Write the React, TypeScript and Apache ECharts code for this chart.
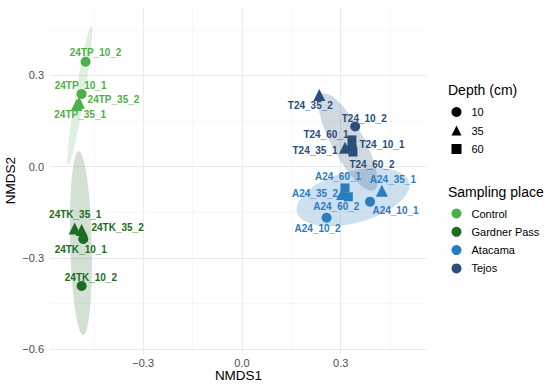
import React, { useEffect, useRef } from "react";
import * as echarts from "echarts";

// ---- data ----
const sampleNames = [
  "24TP_10_2", "24TP_10_1", "24TP_35_2", "24TP_35_1",
  "24TK_35_1", "24TK_35_2", "24TK_10_1", "24TK_10_2",
  "T24_35_2", "T24_10_2", "T24_60_1", "T24_35_1", "T24_10_1", "T24_60_2",
  "A24_60_1", "A24_35_2", "A24_60_2", "A24_35_1", "A24_10_1", "A24_10_2",
];
const nmds1 = [
  -0.475, -0.487, -0.495, -0.502,
  -0.508, -0.487, -0.482, -0.487,
  0.235, 0.344, 0.334, 0.313, 0.334, 0.337,
  0.313, 0.304, 0.323, 0.425, 0.389, 0.257,
];
const nmds2 = [
  0.345, 0.239, 0.21, 0.203,
  -0.203, -0.208, -0.238, -0.392,
  0.236, 0.132, 0.088, 0.062, 0.065, 0.048,
  -0.07, -0.09, -0.099, -0.079, -0.115, -0.168,
];
const depthOf = [
  "10", "10", "35", "35",
  "35", "35", "10", "10",
  "35", "10", "60", "35", "10", "60",
  "60", "35", "60", "35", "10", "10",
];
const placeOf = [
  "Control", "Control", "Control", "Control",
  "Gardner Pass", "Gardner Pass", "Gardner Pass", "Gardner Pass",
  "Tejos", "Tejos", "Tejos", "Tejos", "Tejos", "Tejos",
  "Atacama", "Atacama", "Atacama", "Atacama", "Atacama", "Atacama",
];
const depthLevels = ["10", "35", "60"];
const placeLevels = ["Control", "Gardner Pass", "Atacama", "Tejos"];

// ellipses (data units): centre, major half-axis vector, minor half-axis vector
const ellipsePlace = ["Control", "Gardner Pass", "Atacama", "Tejos"];
const ellipseCx = [-0.492, -0.489, 0.337, 0.322];
const ellipseCy = [0.236, -0.251, -0.1, 0.081];
const ellipseMx = [0.0356, 0.0067, 0.17, 0.079];
const ellipseMy = [0.23, -0.302, 0.049, -0.158];
const ellipseNx = [0.0135, 0.0328, 0.02, 0.0428];
const ellipseNy = [-0.0024, 0, -0.082, 0.025];

const xMajorTicks = [-0.3, 0, 0.3];
const xMinorTicks = [-0.45, -0.15, 0.15, 0.45];
const yMajorTicks = [-0.6, -0.3, 0, 0.3];
const yMinorTicks = [-0.45, -0.15, 0.15, 0.45];

// ---- styles / layout ----
const placeColors: Record<string, string> = {
  Control: "#4DAF4A",
  "Gardner Pass": "#1E6B22",
  Atacama: "#2A7DBE",
  Tejos: "#2A4F7A",
};
const ellipseFill: Record<string, string> = {
  Control: "rgba(77,175,74,0.18)",
  "Gardner Pass": "rgba(30,107,34,0.2)",
  Atacama: "rgba(42,125,190,0.24)",
  Tejos: "rgba(42,79,122,0.22)",
};
const depthSymbol: Record<string, string> = { "10": "circle", "35": "triangle", "60": "rect" };
const depthSize: Record<string, number> = { "10": 10, "35": 12, "60": 9 };
const labelOffset: Record<string, number[]> = {
  "24TP_10_2": [10, -9],
  "24TP_10_1": [-1, -8.5],
  "24TP_35_2": [34.5, -3],
  "24TP_35_1": [3.5, 10],
  "24TK_35_1": [0.5, -14],
  "24TK_35_2": [36, -2],
  "24TK_10_1": [-2.5, 10.7],
  "24TK_10_2": [9.3, -8.3],
  "T24_35_2": [-9, 11],
  "T24_10_2": [9, -8.4],
  "T24_60_1": [-26, -5],
  "T24_35_1": [-30, 3],
  "T24_10_1": [30, -2],
  "T24_60_2": [19, 12],
  "A24_60_1": [-7, -11],
  "A24_35_2": [-27, -1],
  "A24_60_2": [-12, 10],
  "A24_35_1": [11, -11],
  "A24_10_1": [25.5, 9.3],
  "A24_10_2": [-9, 10.6],
};

const FONT = "'Liberation Sans', Arial, Helvetica, sans-serif";
const fmt = (v: number) => v.toFixed(1).replace("-", "\u2212");

export default function App() {
  const ref = useRef<HTMLDivElement>(null);
  useEffect(() => {
    document.body.style.margin = "0";
    const chart = echarts.init(ref.current!, null, { renderer: "svg" });

    const ellipseData = ellipsePlace.map((p, i) => [
      ellipseCx[i], ellipseCy[i], ellipseMx[i], ellipseMy[i], ellipseNx[i], ellipseNy[i], i,
    ]);

    const depthSeries = depthLevels.map((d) => ({
      type: "scatter",
      name: d,
      symbol: depthSymbol[d],
      symbolSize: depthSize[d],
      itemStyle: { color: "#000", opacity: 1 },
      z: 3,
      label: {
        show: true,
        position: "inside",
        fontSize: 10,
        fontWeight: "bold",
        fontFamily: FONT,
        formatter: (p: any) => p.name,
      },
      emphasis: { disabled: true },
      data: sampleNames
        .map((n, i) => ({ n, i }))
        .filter(({ i }) => depthOf[i] === d)
        .map(({ n, i }) => ({
          name: n,
          value: [nmds1[i], nmds2[i]],
          itemStyle: { color: placeColors[placeOf[i]], opacity: 1 },
          label: { offset: labelOffset[n], color: placeColors[placeOf[i]] },
        })),
    }));

    const placeSeries = placeLevels.map((p) => ({
      type: "scatter",
      name: p,
      itemStyle: { color: placeColors[p], opacity: 1 },
      data: [],
    }));

    chart.setOption({
      animation: false,
      textStyle: { fontFamily: FONT },
      grid: {
        left: 50,
        right: 123,
        top: 7,
        bottom: 33,
        containLabel: false,
        outerBoundsMode: "none",
      },
      xAxis: [
        {
          type: "value",
          min: -0.583,
          max: 0.562,
          axisLine: { show: false },
          axisTick: { show: false, customValues: xMajorTicks },
          axisLabel: {
            customValues: xMajorTicks,
            formatter: fmt,
            color: "#4D4D4D",
            fontSize: 11,
            margin: 3,
          },
          splitLine: { show: true, lineStyle: { color: "#EBEBEB", width: 1.1 } },
          name: "NMDS1",
          nameLocation: "middle",
          nameGap: 14,
          nameMoveOverlap: false,
          nameTextStyle: { fontSize: 13.5, color: "#000" },
        },
        {
          type: "value",
          min: -0.583,
          max: 0.562,
          position: "top",
          axisLine: { show: false },
          axisTick: { show: false, customValues: xMinorTicks },
          axisLabel: { show: false },
          splitLine: { show: true, lineStyle: { color: "#F2F2F2", width: 0.6 } },
        },
      ],
      yAxis: [
        {
          type: "value",
          min: -0.616,
          max: 0.525,
          axisLine: { show: false },
          axisTick: { show: false, customValues: yMajorTicks },
          axisLabel: {
            customValues: yMajorTicks,
            formatter: fmt,
            color: "#4D4D4D",
            fontSize: 11,
            margin: 6,
          },
          splitLine: { show: true, lineStyle: { color: "#EBEBEB", width: 1.1 } },
          name: "NMDS2",
          nameLocation: "middle",
          nameGap: 33,
          nameRotate: 90,
          nameMoveOverlap: false,
          nameTextStyle: { fontSize: 13.5, color: "#000" },
        },
        {
          type: "value",
          min: -0.616,
          max: 0.525,
          position: "right",
          axisLine: { show: false },
          axisTick: { show: false, customValues: yMinorTicks },
          axisLabel: { show: false },
          splitLine: { show: true, lineStyle: { color: "#F2F2F2", width: 0.6 } },
        },
      ],
      legend: [
        {
          data: depthLevels.map((d) => ({ name: d, icon: depthSymbol[d] })),
          orient: "vertical",
          left: 451.5,
          top: 106.5,
          padding: 0,
          itemWidth: 10,
          itemHeight: 10,
          itemGap: 7.5,
          selectedMode: false,
          textStyle: { fontSize: 11, color: "#000", padding: [0, 0, 0, 5] },
        },
        {
          data: placeLevels.map((p) => ({ name: p, icon: "circle" })),
          orient: "vertical",
          left: 451.5,
          top: 208,
          padding: 0,
          itemWidth: 10,
          itemHeight: 10,
          itemGap: 7.3,
          selectedMode: false,
          textStyle: { fontSize: 11, color: "#000", padding: [0, 0, 0, 5] },
        },
      ],
      graphic: [
        {
          type: "text",
          left: 448,
          top: 83,
          style: { text: "Depth (cm)", fontSize: 14, fill: "#000", fontFamily: FONT },
        },
        {
          type: "text",
          left: 448,
          top: 184.5,
          style: { text: "Sampling place", fontSize: 14, fill: "#000", fontFamily: FONT },
        },
      ],
      series: [
        {
          type: "custom",
          name: "ellipses",
          silent: true,
          z: 1,
          clip: true,
          dimensions: ["cx", "cy", "mx", "my", "nx", "ny", "k"],
          encode: { x: 0, y: 1 },
          data: ellipseData,
          renderItem: (params: any, api: any) => {
            const cx = api.value(0), cy = api.value(1);
            const mx = api.value(2), my = api.value(3);
            const nx = api.value(4), ny = api.value(5);
            const k = api.value(6);
            const pts: number[][] = [];
            const N = 96;
            for (let j = 0; j < N; j++) {
              const t = (2 * Math.PI * j) / N;
              pts.push(
                api.coord([
                  cx + Math.cos(t) * mx + Math.sin(t) * nx,
                  cy + Math.cos(t) * my + Math.sin(t) * ny,
                ])
              );
            }
            return {
              type: "polygon",
              shape: { points: pts },
              style: { fill: ellipseFill[ellipsePlace[k]], stroke: "none" },
            };
          },
        },
        ...depthSeries,
        ...placeSeries,
      ],
    } as any);

    return () => chart.dispose();
  }, []);

  return <div ref={ref} style={{ width: 550, height: 387 }} />;
}
